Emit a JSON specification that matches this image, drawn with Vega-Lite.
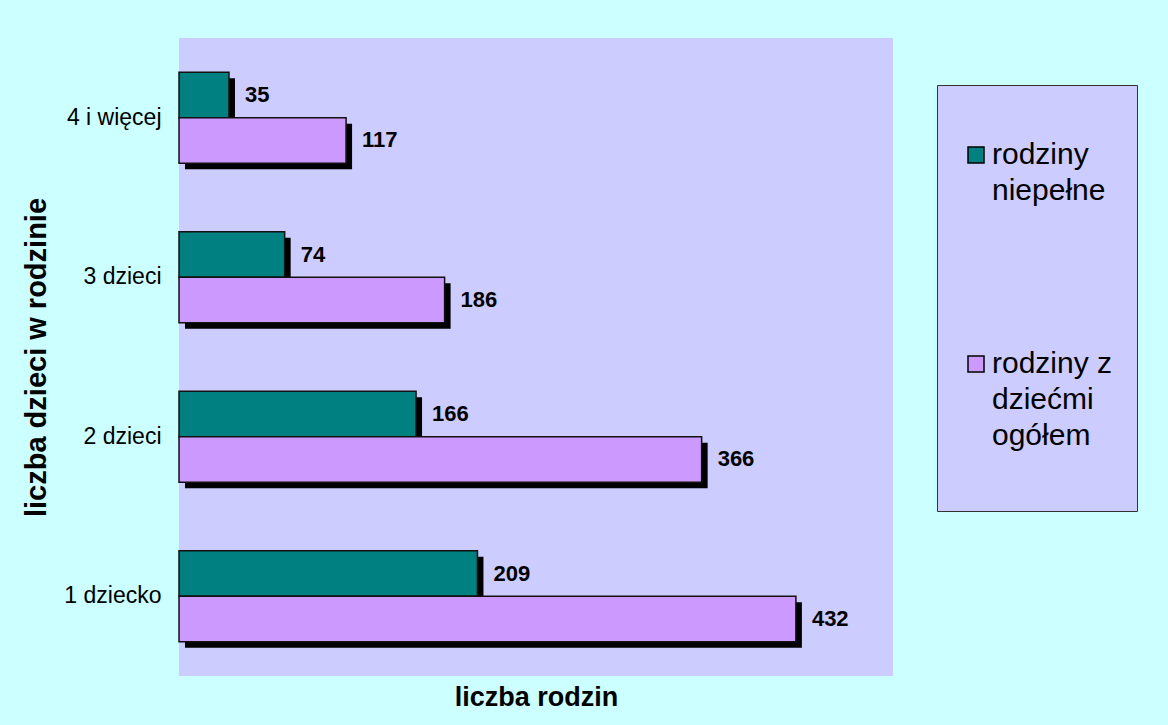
{
  "$schema": "https://vega.github.io/schema/vega-lite/v6.json",
  "autosize": "none",
  "width": 714,
  "height": 638,
  "padding": {"left": 179, "top": 38, "right": 275, "bottom": 49},
  "background": "#CCFFFF",
  "config": {
    "view": {"fill": "#CCCCFF", "stroke": null},
    "font": "Liberation Sans"
  },
  "data": {
    "values": [
      {"kategoria": "4 i więcej", "seria": "rodziny niepełne", "liczba": 35},
      {"kategoria": "4 i więcej", "seria": "rodziny z dziećmi ogółem", "liczba": 117},
      {"kategoria": "3 dzieci", "seria": "rodziny niepełne", "liczba": 74},
      {"kategoria": "3 dzieci", "seria": "rodziny z dziećmi ogółem", "liczba": 186},
      {"kategoria": "2 dzieci", "seria": "rodziny niepełne", "liczba": 166},
      {"kategoria": "2 dzieci", "seria": "rodziny z dziećmi ogółem", "liczba": 366},
      {"kategoria": "1 dziecko", "seria": "rodziny niepełne", "liczba": 209},
      {"kategoria": "1 dziecko", "seria": "rodziny z dziećmi ogółem", "liczba": 432}
    ]
  },
  "encoding": {
    "y": {
      "field": "kategoria",
      "type": "nominal",
      "sort": ["4 i więcej", "3 dzieci", "2 dzieci", "1 dziecko"],
      "scale": {"paddingInner": 0.43, "paddingOuter": 0.215},
      "axis": {
        "domain": false, "ticks": false, "grid": false,
        "labelFontSize": 23, "labelColor": "#000000", "labelPadding": 18,
        "title": "liczba dzieci w rodzinie", "titleFontSize": 29, "titleFontWeight": "bold",
        "titleColor": "#000000", "titlePadding": 12
      }
    },
    "x": {
      "field": "liczba",
      "type": "quantitative",
      "scale": {"domain": [0, 500], "nice": false},
      "axis": {
        "domain": false, "ticks": false, "grid": false, "labels": false,
        "title": "liczba rodzin", "titleFontSize": 27, "titleFontWeight": "bold",
        "titleColor": "#000000", "titlePadding": 8
      }
    }
  },
  "layer": [
    {
      "mark": {"type": "bar", "color": "#000000", "xOffset": 6, "x2Offset": 6},
      "encoding": {
        "yOffset": {"field": "seria", "type": "nominal", "scale": {"range": [6, 97]}}
      }
    },
    {
      "mark": {"type": "bar", "stroke": "#111111", "strokeWidth": 1.5},
      "encoding": {
        "yOffset": {"field": "seria", "type": "nominal"},
        "color": {
          "field": "seria",
          "type": "nominal",
          "scale": {"domain": ["rodziny niepełne", "rodziny z dziećmi ogółem"], "range": ["#008080", "#CC99FF"]},
          "legend": {
            "orient": "none",
            "legendX": 758,
            "legendY": 47,
            "title": " ",
            "titleFontSize": 16,
            "titlePadding": 15,
            "padding": 24,
            "fillColor": "#CCCCFF",
            "strokeColor": "#333333",
            "symbolType": "square",
            "symbolSize": 256,
            "symbolStrokeColor": "#000000",
            "symbolStrokeWidth": 1.5,
            "labelFontSize": 30,
            "labelColor": "#000000",
            "labelBaseline": "alphabetic",
            "labelOffset": 1,
            "labelLimit": 300,
            "rowPadding": 143,
            "labelExpr": "datum.label == 'rodziny niepełne' ? ['rodziny', 'niepełne'] : ['rodziny z', 'dziećmi', 'ogółem', '']",
            "encode": {"labels": {"update": {"lineHeight": {"value": 36}, "dy": {"value": 9}}}}
          }
        }
      }
    },
    {
      "mark": {"type": "text", "align": "left", "baseline": "middle", "dx": 16, "fontSize": 22, "fontWeight": "bold", "color": "#000000"},
      "encoding": {
        "yOffset": {"field": "seria", "type": "nominal"},
        "text": {"field": "liczba", "type": "quantitative"}
      }
    }
  ],
  "resolve": {"scale": {"yOffset": "independent"}}
}
